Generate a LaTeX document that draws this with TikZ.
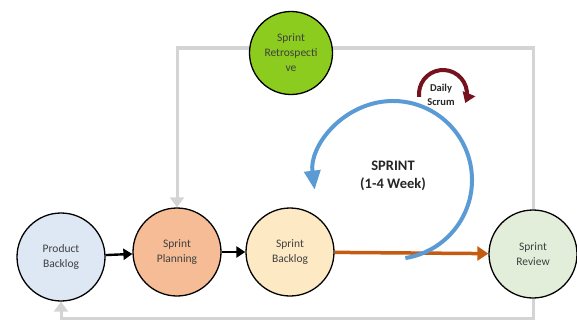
\documentclass[tikz,border=0pt]{standalone}
\usepackage{fontspec}
\setmainfont{Carlito}
\usetikzlibrary{arrows.meta,backgrounds}
\definecolor{pbBlue}{RGB}{221,232,244}
\definecolor{spPeach}{RGB}{245,188,150}
\definecolor{sbYellow}{RGB}{254,233,197}
\definecolor{srGreen}{RGB}{226,238,218}
\definecolor{retroGreen}{RGB}{140,204,30}
\definecolor{loopGray}{RGB}{212,212,212}
\definecolor{runOrange}{RGB}{197,90,17}
\definecolor{sprintBlue}{RGB}{91,155,213}
\definecolor{scrumRed}{RGB}{118,18,30}
\definecolor{textGray}{RGB}{64,64,64}
\begin{document}
\begin{tikzpicture}[x=1pt,y=-1pt,
phase/.style={circle,draw=black,line width=1.3pt,minimum size=88pt,inner sep=0pt,
  align=center,text=textGray,font=\fontsize{11.5}{15}\selectfont},
loopline/.style={draw=loopGray,line width=3pt,-{Triangle[width=14pt,length=10pt]}},
step arrow/.style={draw=black,line width=2.4pt,-{Triangle[width=11pt,length=9pt]}}
]
\useasboundingbox (0,0) rectangle (577,321);

\node[phase,fill=pbBlue] (product) at (61,257) {Product\\Backlog};
\node[phase,fill=spPeach] (planning) at (177,252) {Sprint\\Planning};
\node[phase,fill=sbYellow] (backlog) at (290,252) {Sprint\\Backlog};
\node[phase,fill=srGreen] (review) at (533,254) {Sprint\\Review};
\node[phase,fill=retroGreen,minimum size=83pt] (retro) at (291,53) {Sprint\\Retrospecti\\ve};

\coordinate (base) at (300,318);
\coordinate (sprintc) at (393,180);
\coordinate (scrumc) at (443,94);

\begin{scope}[on background layer]
\draw[loopline] (review.north) |- ([yshift=5pt]retro.center) -| (planning.north);
\draw[loopline] (review.south) |- (base) -| (product.south);
\end{scope}

\draw[step arrow] (product) -- (planning);
\draw[step arrow] (planning) -- (backlog);
\draw[runOrange,line width=3.5pt,-{Triangle[width=14pt,length=11pt]}] (backlog) -- (review);

\draw[sprintBlue,line width=4pt,-{Triangle[width=16pt,length=19pt]}]
  ([shift={(81:79)}]sprintc) arc[start angle=81,end angle=-187,radius=79];
\node[font=\bfseries\fontsize{14.5}{18}\selectfont,align=center,text=black!85] (sprint) at (sprintc) [yshift=4pt] {SPRINT\\(1-4 Week)};

\draw[scrumRed,line width=4pt,-{Triangle[width=13pt,length=10pt]}]
  ([shift={(173:24)}]scrumc) arc[start angle=173,end angle=382,radius=24];
\node[font=\bfseries\fontsize{10.5}{14}\selectfont,align=center,text=black!85] (scrum) at (441,95) {Daily\\Scrum};
\end{tikzpicture}
\end{document}
